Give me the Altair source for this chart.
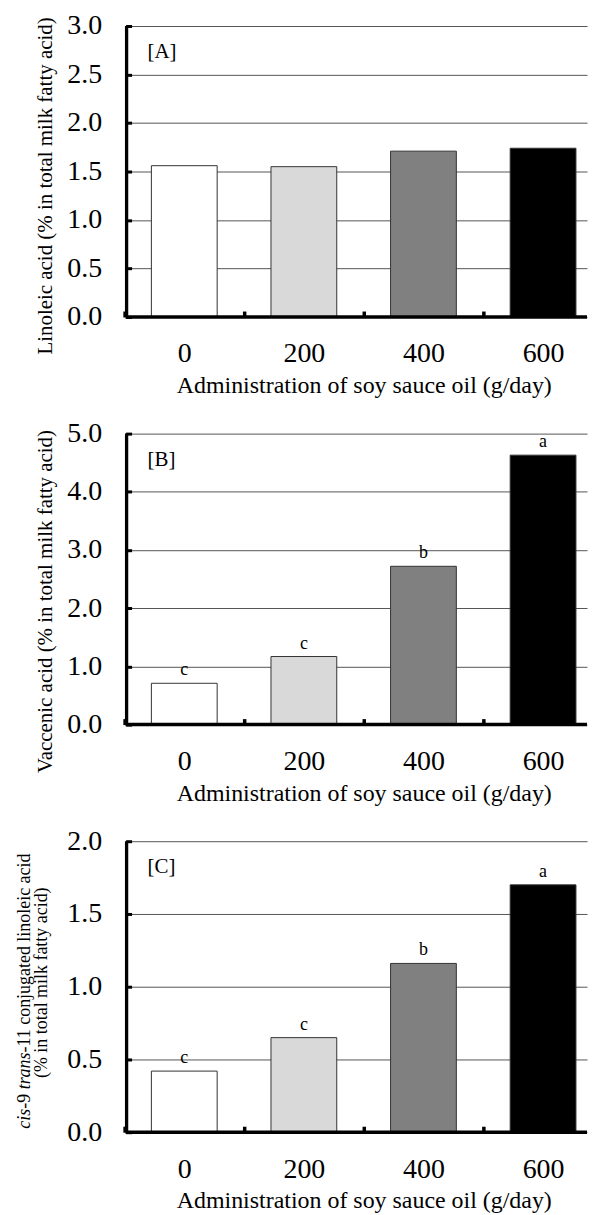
import altair as alt
import pandas as pd

doses = ["0", "200", "400", "600"]
linoleic = [1.56, 1.55, 1.71, 1.74]
vaccenic = [0.71, 1.17, 2.72, 4.63]
cla = [0.42, 0.65, 1.16, 1.70]
letters_a = ["", "", "", ""]
letters_b = ["c", "c", "b", "a"]
letters_c = ["c", "c", "b", "a"]
fills = ["#ffffff", "#d9d9d9", "#808080", "#000000"]
ticks_a = [0, 0.5, 1.0, 1.5, 2.0, 2.5, 3.0]
ticks_b = [0, 1, 2, 3, 4, 5]
ticks_c = [0, 0.5, 1.0, 1.5, 2.0]
xtitle = "Administration of soy sauce oil (g/day)"
ytitle_a = "Linoleic acid (% in total milk fatty acid)"
ytitle_b = "Vaccenic acid (% in total milk fatty acid)"
# panel C title: first line in pieces (italic / roman), second line whole
ytitle_c_parts = ["cis", "-9 ", "trans", "-11 conjugated linoleic acid"]
ytitle_c_italic = [True, False, True, False]
ytitle_c_line2 = "(% in total milk fatty acid)"

FONT = "Liberation Serif"
W = 463
H = 292
STEP = 120
CFS = 18  # font size of panel C title


def em_width(s, italic):
    roman = {"-": .333, " ": .25, "%": .833, "(": .333, ")": .333}
    table = {
        False: {"a": .444, "c": .444, "d": .5, "e": .444, "g": .5, "i": .278, "j": .278,
                "l": .278, "n": .5, "o": .5, "r": .333, "s": .389, "t": .278, "u": .5},
        True: {"a": .5, "c": .444, "i": .278, "n": .5, "r": .389, "s": .389, "t": .278},
    }
    total = 0.0
    for ch in s:
        if ch.isdigit():
            total += .5
        elif ch in table[italic]:
            total += table[italic][ch]
        else:
            total += roman.get(ch, .5)
    return total * CFS


def panel(values, letters, ticks, ytitle, tag, title_y, extra=None):
    df = pd.DataFrame({"dose": doses, "value": values, "sig": letters})
    xscale = alt.Scale(domain=doses, paddingInner=0.45, paddingOuter=0.154, align=0.70)
    yscale = alt.Scale(domain=[ticks[0], ticks[-1]], nice=False, zero=True)
    xaxis = alt.Axis(
        title=xtitle, orient="bottom", offset=-6, domain=False, grid=False,
        ticks=True, tickSize=6, tickWidth=3.5, tickColor="black",
        tickOffset=-STEP / 2, labelOffset=STEP / 2,
        labelFont=FONT, labelFontSize=28, labelColor="black", labelPadding=23,
        labelAngle=0, titleFont=FONT, titleFontSize=24, titleFontWeight="normal",
        titleColor="black", titleX=239, titleY=63, titleBaseline="top",
        titleAnchor="middle", titleAlign="center",
    )
    yopts = dict(
        orient="left", offset=-6, domain=False, values=ticks,
        format=".1f", grid=True, gridColor="#555555", gridWidth=1,
        ticks=True, tickSize=6, tickWidth=3, tickColor="black",
        labelFont=FONT, labelFontSize=28, labelColor="black", labelPadding=24,
    )
    if ytitle is None:
        yaxis = alt.Axis(title=None, **yopts)
    else:
        yaxis = alt.Axis(
            title=ytitle, titleFont=FONT, titleFontSize=21, titleFontWeight="normal",
            titleColor="black", titleAngle=270, titleX=-76, titleY=title_y,
            titleBaseline="bottom", titleAlign="center", **yopts,
        )
    base = alt.Chart(df)
    bars = base.mark_bar(stroke="#333333", strokeWidth=1).encode(
        x=alt.X("dose:N", sort=doses, scale=xscale, axis=xaxis),
        y=alt.Y("value:Q", scale=yscale, axis=yaxis),
        color=alt.Color("dose:N", scale=alt.Scale(domain=doses, range=fills), legend=None),
    )
    sig = base.mark_text(font=FONT, fontSize=18, baseline="bottom", dy=-4, color="black").encode(
        x=alt.X("dose:N", sort=doses, scale=xscale, axis=xaxis),
        y=alt.Y("value:Q", scale=yscale, axis=yaxis),
        text="sig:N",
    )
    one = alt.Chart(pd.DataFrame({"tag": [tag]}))
    baseline = one.mark_rule(color="black", strokeWidth=3.5).encode(
        x=alt.value(0), x2=alt.value(W), y=alt.YDatum(0, axis=yaxis, scale=yscale)
    )
    yline = one.mark_rule(color="black", strokeWidth=3.3).encode(
        x=alt.value(1), y=alt.YDatum(ticks[-1], axis=yaxis, scale=yscale), y2=alt.datum(0)
    )
    label = one.mark_text(font=FONT, fontSize=21, align="left", baseline="middle", color="black").encode(
        x=alt.value(22), y=alt.value(26), text="tag:N"
    )
    layers = [bars, sig, baseline, yline, label]
    if extra is not None:
        layers += extra
    return alt.layer(*layers).properties(width=W, height=H)


def c_title(center_y1, center_y2, x1, x2):
    widths = [em_width(p, it) for p, it in zip(ytitle_c_parts, ytitle_c_italic)]
    total = sum(widths)
    y = center_y1 + total / 2
    marks = []
    for part, it, w in zip(ytitle_c_parts, ytitle_c_italic, widths):
        m = alt.Chart(pd.DataFrame({"t": [part]})).mark_text(
            font=FONT, fontSize=CFS, angle=270, align="left", baseline="alphabetic",
            fontStyle="italic" if it else "normal", color="black",
        ).encode(x=alt.value(x1), y=alt.value(y), text="t:N")
        marks.append(m)
        y -= w
    marks.append(
        alt.Chart(pd.DataFrame({"t": [ytitle_c_line2]})).mark_text(
            font=FONT, fontSize=CFS, angle=270, align="center", baseline="alphabetic",
            color="black",
        ).encode(x=alt.value(x2), y=alt.value(center_y2), text="t:N")
    )
    return marks


pa = panel(linoleic, letters_a, ticks_a, ytitle_a, "[A]", 160)
pb = panel(vaccenic, letters_b, ticks_b, ytitle_b, "[B]", 168)
pc = panel(cla, letters_c, ticks_c, None, "[C]", 151, extra=c_title(150, 142, -96, -79))

chart = alt.vconcat(pa, pb, pc, spacing=22).properties(
    padding={"left": 7, "top": 2, "right": 0, "bottom": 0}
).configure(background="white").configure_view(stroke=None)

chart.save("out.html", embed_options={"renderer": "svg", "actions": False})
